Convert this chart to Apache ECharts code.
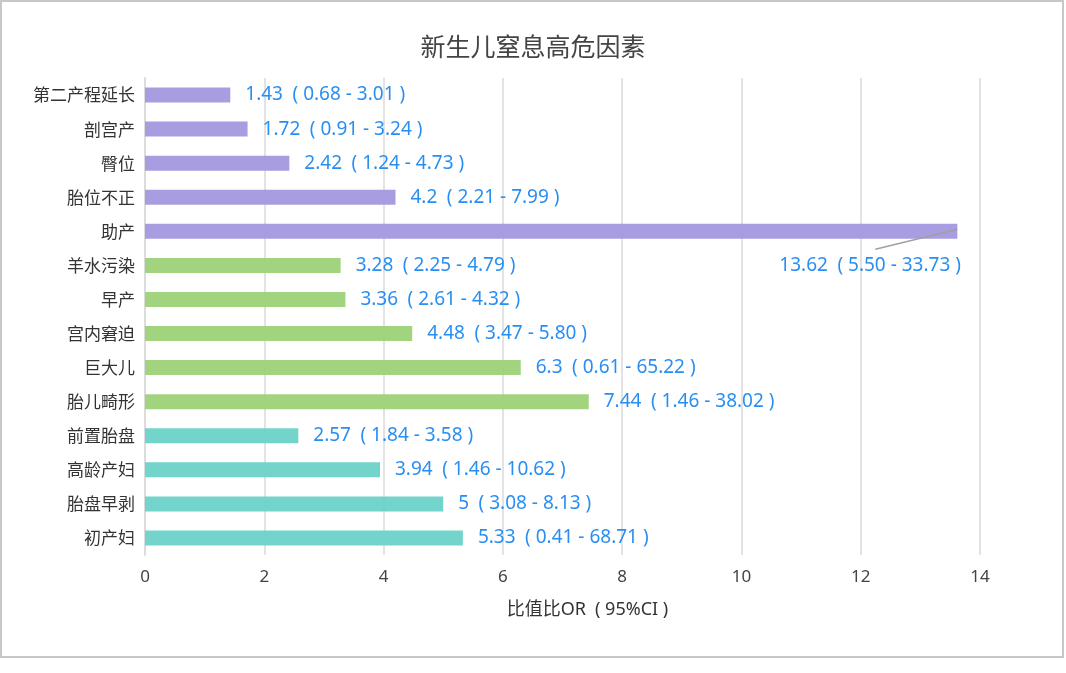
<!DOCTYPE html>
<html><head><meta charset="utf-8">
<script src="https://cdn.jsdelivr.net/npm/echarts@6/dist/echarts.min.js"></script>
<style>html,body{margin:0;padding:0;background:#fff}#c{width:1066px;height:673px}</style>
</head><body><div id="c"></div>
<script>
const categories = ['初产妇','胎盘早剥','高龄产妇','前置胎盘','胎儿畸形','巨大儿','宫内窘迫','早产','羊水污染','助产','胎位不正','臀位','剖宫产','第二产程延长'];
const values = [5.33, 5, 3.94, 2.57, 7.44, 6.3, 4.48, 3.36, 3.28, 13.62, 4.2, 2.42, 1.72, 1.43];
const ciLow = ['0.41','3.08','1.46','1.84','1.46','0.61','3.47','2.61','2.25','5.50','2.21','1.24','0.91','0.68'];
const ciHigh = ['68.71','8.13','10.62','3.58','38.02','65.22','5.80','4.32','4.79','33.73','7.99','4.73','3.24','3.01'];
const groups = [0,0,0,0,1,1,1,1,1,2,2,2,2,2];
const groupColors = ['#6ad2c7','#9dd177','#a398df'];
const xTicks = {min: 0, max: 14, interval: 2};
const movedLabelIndex = 9;
const font = '"Noto Sans CJK SC","Noto Sans",sans-serif';
const latinFont = '"Noto Sans","Noto Sans CJK SC",sans-serif';

const border = {type: 'rect', shape: {x: 1, y: 1, width: 1062, height: 656},
  style: {fill: 'none', stroke: '#c8c8c8', lineWidth: 2}, silent: true};

const chart = echarts.init(document.getElementById('c'));
chart.setOption({
  backgroundColor: '#fff',
  title: {text: '新生儿窒息高危因素', left: 'center', top: 29,
    textStyle: {fontFamily: font, fontSize: 25, fontWeight: 'normal', color: '#444'}},
  graphic: [border],
  grid: {left: 145, right: 86, top: 78, bottom: 118, containLabel: false},
  xAxis: {type: 'value', min: xTicks.min, max: xTicks.max, interval: xTicks.interval,
    name: '比值比OR\u2002( 95%CI )', nameLocation: 'middle', nameGap: 46,
    nameTextStyle: {fontFamily: latinFont, fontSize: 18, color: '#333', padding: [0, 0, 0, 50]},
    axisLabel: {fontFamily: latinFont, fontSize: 17, color: '#444', margin: 14},
    axisLine: {show: false}, axisTick: {show: false},
    splitLine: {show: true, lineStyle: {color: '#e3e3e3', width: 2}}},
  yAxis: {type: 'category', data: categories,
    axisLine: {show: true, lineStyle: {color: '#dcdcdc', width: 2}},
    axisTick: {show: false},
    axisLabel: {fontFamily: font, fontSize: 17, color: '#333', margin: 10}},
  series: [{
    type: 'bar', barWidth: 15,
    data: values.map((v, i) => ({value: v, itemStyle: {color: groupColors[groups[i]], opacity: 0.95}})),
    label: {show: true, position: 'right', distance: 15, fontFamily: latinFont, fontSize: 19, color: '#1e88f0',
      formatter: p => p.value + '\u2002( ' + ciLow[p.dataIndex] + ' - ' + ciHigh[p.dataIndex] + ' )'},
    labelLayout: p => p.dataIndex === movedLabelIndex ? {dx: -193, dy: 34} : {},
    animation: false
  }]
});
// leader line for the moved label, anchored to the bar end via the library's scales
const end = chart.convertToPixel({seriesIndex: 0}, [values[movedLabelIndex], categories[movedLabelIndex]]);
chart.setOption({graphic: [border,
  {type: 'line', shape: {x1: end[0], y1: end[1] - 2, x2: end[0] - 82, y2: end[1] + 18},
    style: {stroke: '#a0a0a0', lineWidth: 1.5}, silent: true, z: 10}]});
</script></body></html>
